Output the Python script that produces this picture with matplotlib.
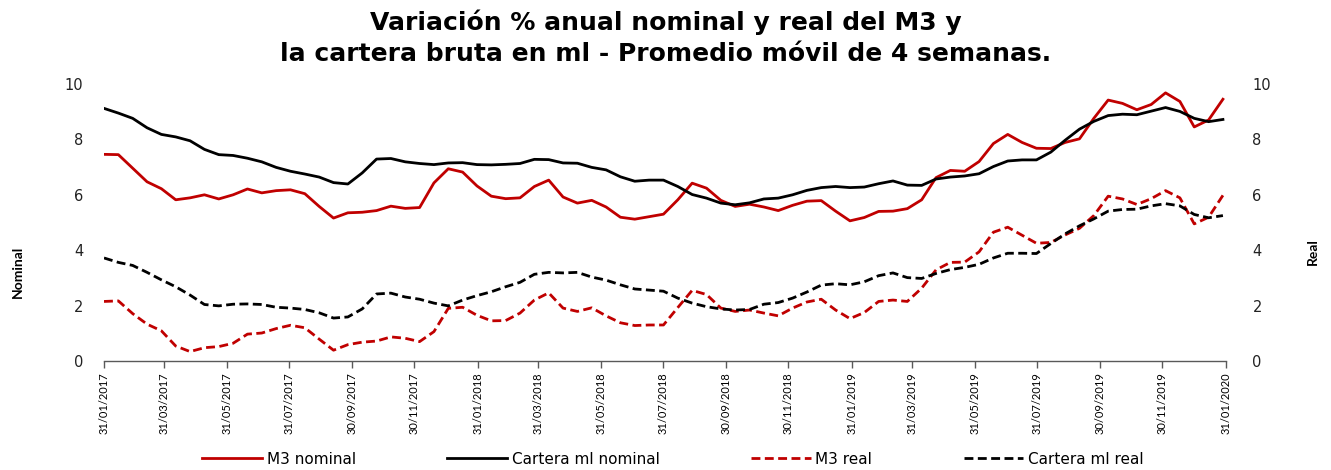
import matplotlib
matplotlib.use("Agg")
import matplotlib.pyplot as plt
import pandas as pd

# ---- data ----
start_date = "2017-01-31"
n_points = 79  # biweekly readings of the 4-week moving average
m3_nominal = [7.46, 7.45, 6.96, 6.47, 6.22, 5.82, 5.89, 6.00, 5.85, 6.00,
              6.21, 6.07, 6.15, 6.18, 6.04, 5.58, 5.16, 5.35, 5.37, 5.43,
              5.59, 5.51, 5.54, 6.43, 6.94, 6.82, 6.32, 5.95, 5.86, 5.89,
              6.30, 6.53, 5.92, 5.70, 5.80, 5.56, 5.19, 5.12, 5.21, 5.30,
              5.82, 6.42, 6.24, 5.80, 5.58, 5.66, 5.56, 5.43, 5.62, 5.77,
              5.79, 5.41, 5.06, 5.18, 5.40, 5.41, 5.50, 5.82, 6.62, 6.88,
              6.85, 7.20, 7.85, 8.18, 7.89, 7.68, 7.67, 7.89, 8.02, 8.76,
              9.42, 9.30, 9.07, 9.26, 9.68, 9.37, 8.45, 8.70, 9.45]
cartera_nominal = [9.12, 8.95, 8.76, 8.42, 8.18, 8.09, 7.95, 7.64, 7.45, 7.42,
                   7.32, 7.19, 6.99, 6.85, 6.75, 6.64, 6.44, 6.39, 6.79, 7.29,
                   7.31, 7.19, 7.13, 7.09, 7.15, 7.16, 7.09, 7.08, 7.10, 7.13,
                   7.28, 7.27, 7.15, 7.14, 6.99, 6.90, 6.65, 6.49, 6.53, 6.53,
                   6.30, 6.01, 5.88, 5.70, 5.64, 5.71, 5.85, 5.88, 6.00, 6.16,
                   6.26, 6.30, 6.26, 6.28, 6.40, 6.50, 6.35, 6.34, 6.57, 6.64,
                   6.68, 6.76, 7.02, 7.22, 7.26, 7.26, 7.54, 7.97, 8.37, 8.65,
                   8.86, 8.91, 8.89, 9.02, 9.15, 9.01, 8.76, 8.64, 8.72]
m3_real = [2.15, 2.17, 1.71, 1.33, 1.09, 0.54, 0.34, 0.48, 0.52, 0.64,
           0.97, 1.01, 1.17, 1.29, 1.20, 0.79, 0.39, 0.59, 0.68, 0.72,
           0.87, 0.82, 0.70, 1.06, 1.90, 1.94, 1.65, 1.45, 1.46, 1.73,
           2.20, 2.46, 1.91, 1.79, 1.92, 1.63, 1.38, 1.28, 1.30, 1.30,
           1.93, 2.55, 2.40, 1.91, 1.79, 1.84, 1.73, 1.63, 1.91, 2.13,
           2.23, 1.84, 1.53, 1.75, 2.15, 2.20, 2.15, 2.63, 3.29, 3.56,
           3.57, 3.94, 4.65, 4.83, 4.54, 4.25, 4.28, 4.55, 4.79, 5.25,
           5.95, 5.85, 5.65, 5.86, 6.15, 5.89, 4.95, 5.19, 5.98]
cartera_real = [3.72, 3.56, 3.45, 3.20, 2.93, 2.68, 2.38, 2.04, 1.99, 2.05,
                2.06, 2.04, 1.94, 1.91, 1.86, 1.74, 1.55, 1.59, 1.88, 2.42,
                2.45, 2.31, 2.23, 2.09, 1.99, 2.20, 2.36, 2.50, 2.68, 2.84,
                3.13, 3.20, 3.18, 3.20, 3.03, 2.92, 2.75, 2.60, 2.56, 2.52,
                2.27, 2.09, 1.96, 1.88, 1.84, 1.86, 2.05, 2.11, 2.27, 2.49,
                2.74, 2.79, 2.75, 2.86, 3.08, 3.18, 3.01, 2.98, 3.16, 3.30,
                3.38, 3.49, 3.72, 3.89, 3.89, 3.88, 4.24, 4.59, 4.88, 5.13,
                5.41, 5.47, 5.48, 5.60, 5.68, 5.60, 5.29, 5.17, 5.25]
tick_labels = ["31/01/2017", "31/03/2017", "31/05/2017", "31/07/2017", "30/09/2017",
               "30/11/2017", "31/01/2018", "31/03/2018", "31/05/2018", "31/07/2018",
               "30/09/2018", "30/11/2018", "31/01/2019", "31/03/2019", "31/05/2019",
               "31/07/2019", "30/09/2019", "30/11/2019", "31/01/2020"]
y_ticks = [0, 2, 4, 6, 8, 10]
title = "Variación % anual nominal y real del M3 y\nla cartera bruta en ml - Promedio móvil de 4 semanas."

dates = pd.date_range(start_date, periods=n_points, freq="14D")
tick_dates = pd.to_datetime(tick_labels, format="%d/%m/%Y")

RED = "#C00000"
BLACK = "#000000"
LW = 2.0
DASH = (0, (3.2, 1.6))
TICKFONT = "Lato"
TEXTFONT = "DejaVu Sans"

fig = plt.figure(figsize=(13.31, 4.70), dpi=100)
ax = fig.add_axes([104 / 1331, 1 - 361 / 470, (1226 - 104) / 1331, (361 - 84) / 470])
ax2 = ax.twinx()

l1, = ax.plot(dates, m3_nominal, color=RED, lw=LW, label="M3 nominal")
l2, = ax.plot(dates, cartera_nominal, color=BLACK, lw=LW, label="Cartera ml nominal")
l3, = ax2.plot(dates, m3_real, color=RED, lw=LW, linestyle=DASH, label="M3 real")
l4, = ax2.plot(dates, cartera_real, color=BLACK, lw=LW, linestyle=DASH, label="Cartera ml real")

for a, pad in ((ax, 15), (ax2, 19)):
    a.set_ylim(0, 10)
    a.set_yticks(y_ticks)
    for s in ("top", "left", "right", "bottom"):
        a.spines[s].set_visible(False)
    a.tick_params(axis="y", length=0, labelsize=10.5, pad=pad)
    for lab in a.get_yticklabels():
        lab.set_fontfamily(TEXTFONT)
        lab.set_color("#222222")

ax.spines["bottom"].set_visible(True)
ax.spines["bottom"].set_color("#595959")
ax.spines["bottom"].set_linewidth(1.0)
ax.set_xlim(tick_dates[0], tick_dates[-1])
ax.set_xticks(tick_dates)
ax.set_xticklabels(tick_labels, rotation=90, fontsize=8.0, fontfamily=TICKFONT)
ax.tick_params(axis="x", length=5, width=1.0, color="#595959", pad=3)

fig.text(18 / 1331, 1 - 272 / 470, "Nominal", rotation=90, ha="center", va="center",
         fontsize=10, fontweight="bold", fontfamily=TICKFONT)
fig.text(1313 / 1331, 1 - 252 / 470, "Real", rotation=90, ha="center", va="center",
         fontsize=10, fontweight="bold", fontfamily=TICKFONT)

fig.text(0.5, 1 - 38 / 470, title, ha="center", va="center", fontsize=18,
         fontweight="bold", fontfamily=TEXTFONT, linespacing=1.35)

leg = fig.legend(handles=[l1, l2, l3, l4], loc="center", bbox_to_anchor=(673 / 1331, 1 - 459 / 470),
                 ncol=4, frameon=False, handlelength=3.9, handletextpad=0.3,
                 columnspacing=6.0, prop={"family": TEXTFONT, "size": 11})

fig.savefig("out.png", dpi=100)
